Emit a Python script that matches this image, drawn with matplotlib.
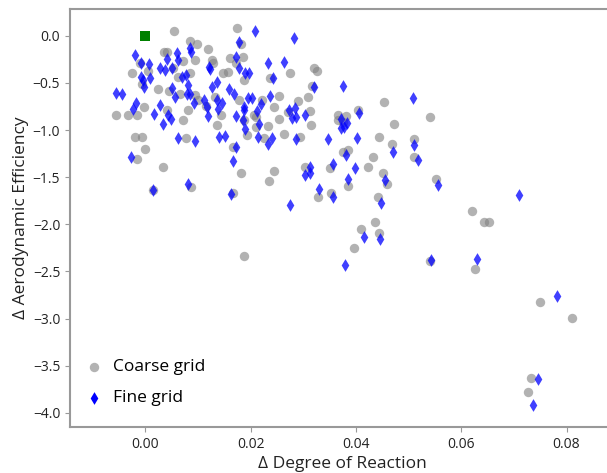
import matplotlib.pyplot as plt

plt.rcParams['font.family'] = ['Open Sans', 'DejaVu Sans']

# coarse grid results (delta degree of reaction, delta efficiency)
coarse_x = [0.00552, 0.01733, 0.00857, 0.00990, 0.00362, 0.00419, 0.0120, 0.00952, 0.00724, 0.01276,
            0.01295, 0.0160, 0.01848, -0.00095, 0.00057, -0.00248, 0.00533, 0.00629, 0.00857, -0.00057,
            0.00248, 0.00457, 0.00667, 0.00952, 0.01010, 0.01333, 0.01562, 0.01486, 0.01867, -0.00552,
            -0.00324, -0.00152, -0.00019, 0.00419, 0.00819, 0.00724, 0.01162, 0.01371, 0.01448, 0.01771,
            0.01867, 0.02095, -0.00190, -0.00057, 0.00781, 0.0, -0.00152, 0.00343, 0.01657, 0.01810,
            0.00876, 0.01657, 0.01924, 0.0181, 0.01714, 0.02362, 0.02743, 0.0320, 0.03257, 0.03162,
            0.02533, 0.02210, 0.02895, 0.03086, 0.02438, 0.03124, 0.02705, 0.02533, 0.02095, 0.02057,
            0.02324, 0.02248, 0.02629, 0.02933, 0.03143, 0.03657, 0.0381, 0.03657, 0.03752, 0.04038,
            0.04533, 0.04724, 0.04438, 0.04686, 0.05105, 0.05105, 0.0541, 0.03752, 0.03848, 0.04324,
            0.04229, 0.03505, 0.03029, 0.02438, 0.02343, 0.04514, 0.04590, 0.03848, 0.03524, 0.03276,
            0.04419, 0.05524, 0.04362, 0.04095, 0.04438, 0.03962, 0.0621, 0.06438, 0.06533, 0.0541,
            0.06267, 0.07505, 0.08095, 0.07333, 0.07276, 0.01867, 0.00152]
coarse_y = [0.053, 0.085, -0.053, -0.085, -0.170, -0.170, -0.138, -0.255, -0.265, -0.255,
            -0.287, -0.234, -0.223, -0.287, -0.372, -0.393, -0.340, -0.435, -0.393, -0.510,
            -0.563, -0.584, -0.616, -0.626, -0.679, -0.648, -0.382, -0.393, -0.467, -0.839,
            -0.839, -0.839, -0.754, -0.786, -0.786, -0.892, -0.743, -0.945, -0.839, -0.679,
            -0.892, -0.966, -1.072, -1.072, -1.083, -1.200, -1.306, -1.391, -1.178, -1.454,
            -1.603, -1.667, -1.051, -0.085, -0.287, -0.446, -0.393, -0.340, -0.372, -0.531,
            -0.637, -0.679, -0.690, -0.648, -0.754, -0.796, -0.807, -0.881, -0.860, -0.839,
            -0.955, -1.083, -1.040, -1.072, -0.945, -0.839, -0.849, -0.892, -0.913, -0.786,
            -0.701, -0.934, -1.072, -1.147, -1.093, -1.285, -0.860, -1.231, -1.210, -1.285,
            -1.391, -1.401, -1.391, -1.433, -1.539, -1.454, -1.571, -1.592, -1.667, -1.709,
            -1.709, -1.518, -1.975, -2.049, -2.091, -2.251, -1.858, -1.975, -1.975, -2.389,
            -2.473, -2.824, -2.994, -3.631, -3.779, -2.335, -1.635]

# fine grid results
fine_x = [-0.0019, -0.00076, 0.00076, -0.00076, -0.00038, -0.00019, 0.00095, -0.00552, -0.00438, -0.00171,
          -0.00229, 0.00286, 0.00381, 0.00514, 0.00419, 0.0061, 0.00629, 0.00857, 0.00876, 0.00705,
          0.00781, 0.00819, 0.00514, 0.00571, 0.008, 0.00857, 0.00286, 0.00171, 0.00438, 0.00495,
          0.00343, 0.00933, 0.01124, 0.01181, 0.01219, 0.01238, 0.01276, 0.0120, 0.01371, 0.01581,
          0.01676, 0.01371, 0.0139, 0.01467, 0.01714, 0.01771, 0.01771, 0.01886, 0.01962, 0.01943,
          0.02019, 0.01714, 0.01867, 0.01867, 0.01848, 0.01886, 0.02076, 0.02114, 0.02152, 0.02133,
          0.0141, 0.01524, 0.00629, 0.00952, 0.01714, 0.01657, -0.00267, 0.00152, 0.00819, 0.01619,
          0.02819, 0.02324, 0.02629, 0.02419, 0.0320, 0.03752, 0.05086, 0.02362, 0.0219, 0.02724,
          0.02838, 0.02781, 0.02857, 0.03029, 0.02324, 0.024, 0.02857, 0.03467, 0.03714, 0.03714,
          0.03771, 0.03829, 0.04057, 0.04019, 0.04705, 0.05105, 0.05181, 0.0381, 0.03562, 0.03981,
          0.03124, 0.03124, 0.03029, 0.03848, 0.04552, 0.03295, 0.04476, 0.03562, 0.05562, 0.07105,
          0.04152, 0.04457, 0.0379, 0.05429, 0.06305, 0.0781, 0.07467, 0.07371, 0.02743]
fine_y = [-0.202, -0.287, -0.297, -0.435, -0.467, -0.541, -0.446, -0.605, -0.616, -0.711,
          -0.775, -0.340, -0.361, -0.340, -0.244, -0.180, -0.255, -0.127, -0.170, -0.435,
          -0.414, -0.520, -0.552, -0.648, -0.616, -0.616, -0.733, -0.828, -0.839, -0.881,
          -0.934, -0.711, -0.679, -0.754, -0.329, -0.350, -0.541, -0.849, -0.488, -0.563,
          -0.616, -0.679, -0.775, -0.711, -0.223, -0.340, -0.064, -0.393, -0.393, -0.658,
          -0.658, -0.849, -0.754, -0.786, -0.892, -0.987, 0.053, -0.796, -0.934, -1.072,
          -1.072, -1.062, -1.083, -1.115, -1.178, -1.327, -1.285, -1.635, -1.571, -1.677,
          -0.021, -0.287, -0.276, -0.446, -0.541, -0.531, -0.658, -0.637, -0.722, -0.786,
          -0.764, -0.870, -0.860, -0.839, -1.147, -1.083, -1.093, -1.093, -0.881, -0.977,
          -0.966, -0.924, -0.817, -1.083, -1.231, -1.157, -1.316, -1.263, -1.359, -1.401,
          -1.391, -1.454, -1.476, -1.518, -1.529, -1.624, -1.773, -1.709, -1.582, -1.688,
          -2.134, -2.155, -2.431, -2.378, -2.367, -2.760, -3.641, -3.917, -1.794]

# baseline design
base_x = [0.0]
base_y = [0.0]

fig = plt.figure(figsize=(6.07, 4.73), dpi=100)
ax = fig.add_axes([0.1153, 0.0973, 0.897, 0.884])

ax.scatter(coarse_x, coarse_y, s=46, marker='o', color='gray', alpha=0.6, linewidths=0, label='Coarse grid')
ax.scatter(fine_x, fine_y, s=42, marker='d', color='blue', alpha=0.75, linewidths=0, label='Fine grid')
ax.scatter(base_x, base_y, s=42, marker='s', color='green', linewidths=0)

ax.set_xlim(-0.01429, 0.0891)
ax.set_ylim(-4.151, 0.287)
ax.set_xticks([0.0, 0.02, 0.04, 0.06, 0.08])
ax.set_yticks([0.0, -0.5, -1.0, -1.5, -2.0, -2.5, -3.0, -3.5, -4.0])
ax.set_xticklabels(['0.00', '0.02', '0.04', '0.06', '0.08'])

for s in ax.spines.values():
    s.set_color('#999999')
    s.set_linewidth(1.5)
ax.tick_params(colors='#999999', labelcolor='#222222', labelsize=10, length=3.5)

ax.set_xlabel('Δ Degree of Reaction', fontsize=12.5, color='#222222', labelpad=3)
ax.set_ylabel('Δ Aerodynamic Efficiency', fontsize=12.5, color='#222222', labelpad=3)

leg = ax.legend(loc='lower left', bbox_to_anchor=(-0.011, 0.012), frameon=False, fontsize=12.5,
                handletextpad=0.3, labelspacing=0.85, handlelength=1.6)
for h in leg.legend_handles:
    h.set_alpha(1.0)
leg.legend_handles[0].set_color('#b3b3b3')

plt.savefig('out.png', dpi=100)
